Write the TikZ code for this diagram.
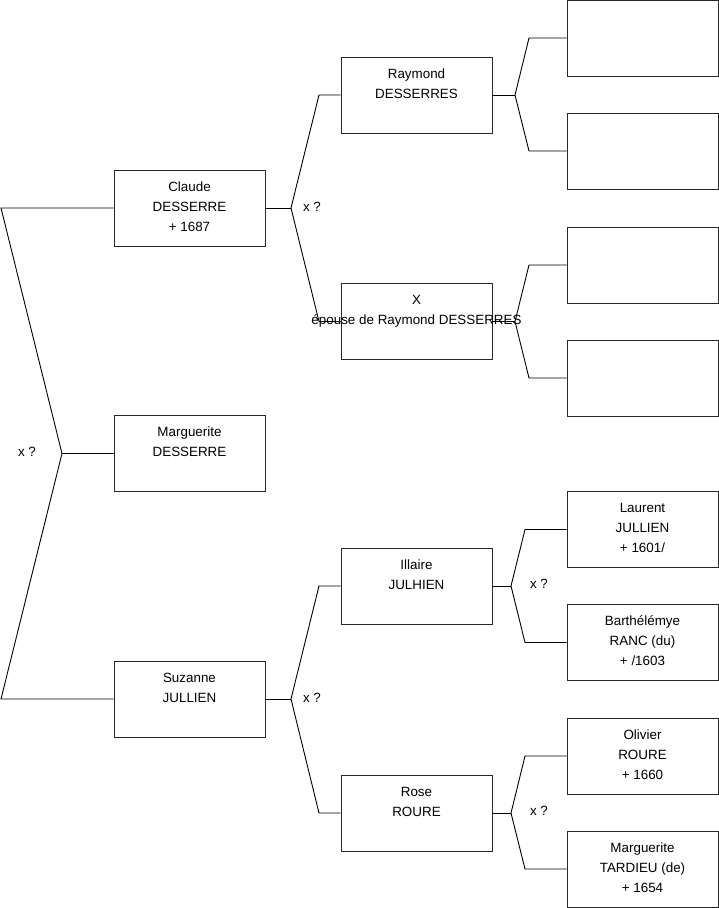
\documentclass[tikz,border=0pt]{standalone}
\usepackage{fontspec}
\setmainfont{Liberation Sans}
\usepackage{tikz}
\usetikzlibrary{positioning}
\definecolor{boxline}{RGB}{40, 40, 40}

\begin{document}
\begin{tikzpicture}[
            x=1pt, y=-1pt,
            box/.style={rectangle, draw=boxline, line width=0.9pt, minimum width=151pt, minimum height=76pt, inner sep=0pt},
            names/.style={align=center, inner sep=0pt, font=\fontsize{13.4}{20}\selectfont},
            tie/.style={draw=black, line width=0.9pt},
            union/.style={inner sep=0pt, font=\fontsize{13.4}{20}\selectfont},
        ]
            \useasboundingbox (0,0) rectangle (719,908);

            % first generation
            \node[box] (claude) at (189.5,208) {};
            \node[box] (marguerite) at (189.5,453.5) {};
            \node[box] (suzanne) at (189.5,699) {};
            \node[names, below=7.5pt of claude.north] (claudeT) {\strut Claude\\DESSERRE\\+ 1687};
            \node[names, below=7.5pt of marguerite.north] (margueriteT) {\strut Marguerite\\DESSERRE};
            \node[names, below=7.5pt of suzanne.north] (suzanneT) {\strut Suzanne\\JULLIEN};

            % parents
            \node[box] (raymond) at (416.5,95) {};
            \node[box] (epouse) at (416.5,321.5) {};
            \node[box] (illaire) at (416.5,586) {};
            \node[box] (rose) at (416.5,813) {};
            \node[names, below=7.5pt of raymond.north] (raymondT) {\strut Raymond\\DESSERRES};
            \node[names, below=7.5pt of epouse.north] (epouseT) {\strut X\\\'epouse de Raymond DESSERRES};
            \node[names, below=7.5pt of illaire.north] (illaireT) {\strut Illaire\\JULHIEN};
            \node[names, below=7.5pt of rose.north] (roseT) {\strut Rose\\ROURE};

            % grandparents (unknown ones left empty)
            \node[box] (gpA) at (642.5,38) {};
            \node[box] (gpB) at (642.5,151) {};
            \node[box] (gpC) at (642.5,265) {};
            \node[box] (gpD) at (642.5,378) {};
            \node[box] (laurent) at (642.5,529.5) {};
            \node[box] (barthelemye) at (642.5,642.5) {};
            \node[box] (olivier) at (642.5,756) {};
            \node[box] (margueriteT2) at (642.5,869) {};
            \node[names, below=7.5pt of laurent.north] (laurentT) {\strut Laurent\\JULLIEN\\+ 1601/};
            \node[names, below=7.5pt of barthelemye.north] (barthelemyeT) {\strut Barth\'el\'emye\\RANC (du)\\+ /1603};
            \node[names, below=7.5pt of olivier.north] (olivierT) {\strut Olivier\\ROURE\\+ 1660};
            \node[names, below=7.5pt of margueriteT2.north] (tardieuT) {\strut Marguerite\\TARDIEU (de)\\+ 1654};

            % fork points
            \coordinate (hubRoot) at (62,453.5);
            \coordinate (rootUp) at (1,208);
            \coordinate (rootDown) at (1,699);
            \coordinate (hubClaude) at (291,208);
            \coordinate (claudeUp) at (319,95);
            \coordinate (claudeDown) at (319,321.5);
            \coordinate (hubSuzanne) at (291,699);
            \coordinate (suzanneUp) at (319,586);
            \coordinate (suzanneDown) at (319,813);
            \coordinate (hubRaymond) at (515,95);
            \coordinate (raymondUp) at (529,38);
            \coordinate (raymondDown) at (529,151);
            \coordinate (hubEpouse) at (515,321.5);
            \coordinate (epouseUp) at (529,265);
            \coordinate (epouseDown) at (529,378);
            \coordinate (hubIllaire) at (511,586);
            \coordinate (illaireUp) at (525,529.5);
            \coordinate (illaireDown) at (525,642.5);
            \coordinate (hubRose) at (511,813);
            \coordinate (roseUp) at (525,756);
            \coordinate (roseDown) at (525,869);

            % connectors
            \draw[tie] (claude.west) -- (rootUp) -- (hubRoot) -- (rootDown) -- (suzanne.west);
            \draw[tie] (hubRoot) -- (marguerite.west);
            \draw[tie] (raymond.west) -- (claudeUp) -- (hubClaude) -- (claudeDown) -- (epouse.west);
            \draw[tie] (hubClaude) -- (claude.east);
            \draw[tie] (illaire.west) -- (suzanneUp) -- (hubSuzanne) -- (suzanneDown) -- (rose.west);
            \draw[tie] (hubSuzanne) -- (suzanne.east);
            \draw[tie] (gpA.west) -- (raymondUp) -- (hubRaymond) -- (raymondDown) -- (gpB.west);
            \draw[tie] (hubRaymond) -- (raymond.east);
            \draw[tie] (gpC.west) -- (epouseUp) -- (hubEpouse) -- (epouseDown) -- (gpD.west);
            \draw[tie] (hubEpouse) -- (epouse.east);
            \draw[tie] (laurent.west) -- (illaireUp) -- (hubIllaire) -- (illaireDown) -- (barthelemye.west);
            \draw[tie] (hubIllaire) -- (illaire.east);
            \draw[tie] (olivier.west) -- (roseUp) -- (hubRose) -- (roseDown) -- (margueriteT2.west);
            \draw[tie] (hubRose) -- (rose.east);

            % marriage marks
            \node[union] (xRoot) at (27,452) {x ?};
            \node[union] (xClaude) at (312,207) {x ?};
            \node[union] (xSuzanne) at (312,698) {x ?};
            \node[union] (xIllaire) at (539,584) {x ?};
            \node[union] (xRose) at (539,811) {x ?};
        \end{tikzpicture}
\end{document}
